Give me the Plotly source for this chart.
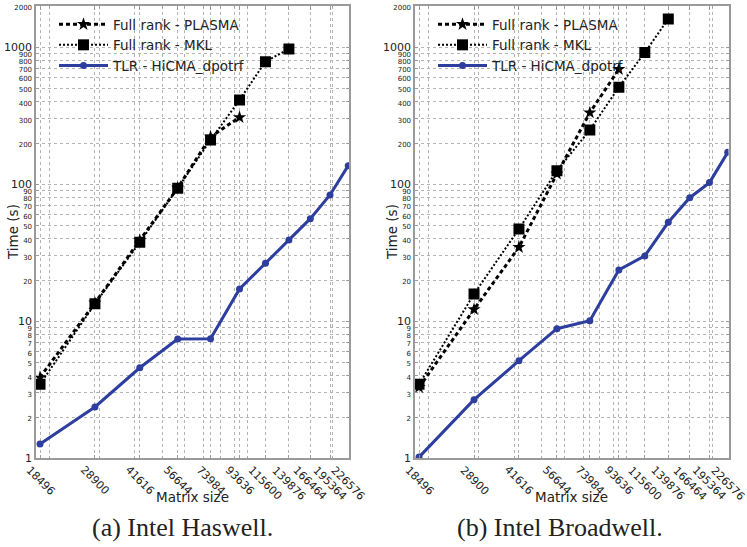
import math
import plotly.graph_objects as go

# ---------------- data ----------------
matrix_sizes = [18496, 28900, 41616, 56644, 73984, 93636, 115600, 139876, 166464, 195364, 226576]
x_tick_labels = [str(v) for v in matrix_sizes]

haswell_plasma = [3.9, 13.6, 39.0, 94.0, 222.0, 308.0]
haswell_mkl = [3.47, 13.4, 37.7, 93.5, 210.6, 412.0, 785.0, 972.0]
haswell_hicma = [1.27, 2.37, 4.58, 7.43, 7.45, 17.2, 26.5, 39.2, 56.1, 83.5, 136.7]

broadwell_plasma = [3.30, 12.2, 34.7, 119.0, 333.0, 691.0]
broadwell_mkl = [3.47, 15.8, 47.2, 125.7, 249.0, 511.0, 914.0, 1610.0]
broadwell_hicma = [1.02, 2.68, 5.16, 8.83, 10.1, 23.7, 30.0, 52.8, 79.8, 102.8, 171.0]

series_names = ["Full rank - PLASMA", "Full rank - MKL", "TLR - HiCMA_dpotrf"]
captions = ["(a) Intel Haswell.", "(b) Intel Broadwell."]

y_major = [1, 10, 100, 1000]
y_tick_values = [1, 2, 3, 4, 5, 6, 7, 8, 9,
                 10, 20, 30, 40, 50, 60, 70, 80, 90,
                 100, 200, 300, 400, 500, 600, 700, 800, 900,
                 1000, 2000]
x_minor_values = [20000, 30000, 40000, 50000, 60000, 70000, 80000, 90000, 100000, 200000]

# ---------------- layout constants ----------------
W, H = 747, 547
BLUE = "#2d3e9e"
GRID = "#b4b4b4"
FRAME = "#9a9a9a"

def px_x(p):
    return p / W

def px_y(p):
    return 1 - p / H

panels = [
    dict(x0=36, x1=349, data=(haswell_plasma, haswell_mkl, haswell_hicma), legend="legend"),
    dict(x0=415, x1=728.5, data=(broadwell_plasma, broadwell_mkl, broadwell_hicma), legend="legend2"),
]
y_top, y_bot = 6, 458.3

fig = go.Figure()

def ytext(v):
    if v in y_major:
        return str(v)
    return '<span style="font-size:7px">%d</span>' % v

annotations = []
for i, pnl in enumerate(panels):
    xa = "x" if i == 0 else "x2"
    ya = "y" if i == 0 else "y2"
    plasma, mkl, hicma = pnl["data"]
    fig.add_trace(go.Scatter(
        x=matrix_sizes[:len(plasma)], y=plasma, name=series_names[0], mode="lines+markers",
        line=dict(color="black", width=3, dash="4px,3px"),
        marker=dict(symbol="star", size=10, color="black"),
        xaxis=xa, yaxis=ya, legend=pnl["legend"]))
    fig.add_trace(go.Scatter(
        x=matrix_sizes[:len(mkl)], y=mkl, name=series_names[1], mode="lines+markers",
        line=dict(color="black", width=2, dash="2px,2px"),
        marker=dict(symbol="square", size=11, color="black"),
        xaxis=xa, yaxis=ya, legend=pnl["legend"]))
    fig.add_trace(go.Scatter(
        x=matrix_sizes[:len(hicma)], y=hicma, name=series_names[2], mode="lines+markers",
        line=dict(color=BLUE, width=3),
        marker=dict(symbol="circle", size=7, color=BLUE),
        xaxis=xa, yaxis=ya, legend=pnl["legend"]))

    # x tick labels (rotated, centred on tick)
    for v, t in zip(matrix_sizes, x_tick_labels):
        annotations.append(dict(
            x=math.log10(v), y=px_y(461), xref=xa, yref="paper", text=t,
            textangle=45, xanchor="center", yanchor="top", showarrow=False,
            font=dict(family="DejaVu Sans", size=11, color="#222")))
    cx = (pnl["x0"] + pnl["x1"]) / 2
    annotations.append(dict(
        x=px_x(cx), y=px_y(497), xref="paper", yref="paper", text="Matrix size",
        showarrow=False, xanchor="center", yanchor="middle",
        font=dict(family="DejaVu Sans", size=13.5, color="#222")))
    annotations.append(dict(
        x=px_x(pnl["x0"] - 23), y=px_y(232), xref="paper", yref="paper", text="Time (s)",
        textangle=-90, showarrow=False, xanchor="center", yanchor="middle",
        font=dict(family="DejaVu Sans", size=13.5, color="#222")))
    annotations.append(dict(
        x=px_x(cx - 10 if i == 0 else cx - 12), y=px_y(527), xref="paper", yref="paper",
        text=captions[i], showarrow=False, xanchor="center", yanchor="middle",
        font=dict(family="Liberation Serif", size=26, color="#222")))

xrange = [math.log10(17900), math.log10(228000)]
yrange = [0, math.log10(2000)]

def xaxis_cfg(pnl, anchor):
    return dict(
        type="log", range=xrange, domain=[px_x(pnl["x0"]), px_x(pnl["x1"])], anchor=anchor,
        tickmode="array", tickvals=matrix_sizes, showticklabels=False,
        ticks="inside", ticklen=4, tickcolor=FRAME,
        showgrid=True, gridcolor=GRID, griddash="dot", gridwidth=1,
        minor=dict(tickmode="array", tickvals=x_minor_values, ticks="inside", ticklen=2,
                   tickcolor=FRAME, showgrid=True, gridcolor=GRID, griddash="dot", gridwidth=1),
        showline=True, linecolor=FRAME, linewidth=1.5, mirror="allticks",
        zeroline=False, automargin=False)

def yaxis_cfg(anchor):
    return dict(
        type="log", range=yrange, domain=[px_y(y_bot), px_y(y_top)], anchor=anchor,
        tickmode="array", tickvals=y_tick_values, ticktext=[ytext(v) for v in y_tick_values],
        tickfont=dict(family="DejaVu Sans", size=11, color="#222"),
        ticks="inside", ticklen=3, tickcolor=FRAME,
        showgrid=True, gridcolor=GRID, griddash="dot", gridwidth=1,
        showline=True, linecolor=FRAME, linewidth=1.5, mirror="allticks",
        zeroline=False, automargin=False)

legend_common = dict(
    bgcolor="rgba(0,0,0,0)", borderwidth=0, xanchor="left", yanchor="top",
    font=dict(family="DejaVu Sans", size=13.5, color="#222"), tracegroupgap=0,
    itemwidth=49)

fig.update_layout(
    width=W, height=H,
    margin=dict(l=0, r=0, t=0, b=0),
    paper_bgcolor="white", plot_bgcolor="white",
    showlegend=True,
    xaxis=xaxis_cfg(panels[0], "y"),
    yaxis=yaxis_cfg("x"),
    xaxis2=xaxis_cfg(panels[1], "y2"),
    yaxis2=yaxis_cfg("x2"),
    legend=dict(x=px_x(54), y=px_y(9), **legend_common),
    legend2=dict(x=px_x(433), y=px_y(9), **legend_common),
    annotations=annotations,
)

fig.write_html(
    "out.html",
    config={"displayModeBar": False},
    post_script="document.body.style.margin='0';document.body.style.overflow='hidden';",
)
